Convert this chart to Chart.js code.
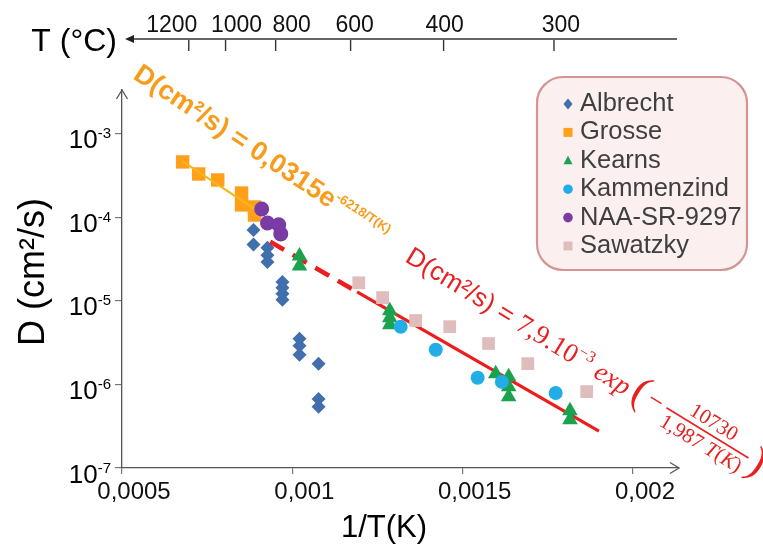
<!DOCTYPE html>
<html>
<head>
<meta charset="utf-8">
<script src="https://cdn.jsdelivr.net/npm/chart.js@4.4.0/dist/chart.umd.min.js"></script>
<style>
  html, body { margin: 0; padding: 0; background: #fff; }
  canvas { display: block; }
</style>
</head>
<body>
<canvas id="chart" width="763" height="545"></canvas>
<script>
// Hydrogen diffusion in zirconium: D (cm²/s) against 1/T (K⁻¹), by source.

const albrechtInvT = [0.000886, 0.000886, 0.000927, 0.000927, 0.000927, 0.000971, 0.000971, 0.000971, 0.000971,
                      0.001021, 0.001021, 0.001021, 0.001077, 0.001077, 0.001077];
const albrechtD    = [7.0e-5, 4.7e-5, 4.3e-5, 3.5e-5, 2.9e-5, 1.68e-5, 1.43e-5, 1.21e-5, 1.03e-5,
                      3.5e-6, 2.9e-6, 2.26e-6, 1.76e-6, 6.7e-7, 5.4e-7];

const grosseInvT = [0.000678, 0.000725, 0.000781, 0.000851, 0.000851, 0.000889, 0.000889];
const grosseD    = [4.57e-4, 3.28e-4, 2.78e-4, 1.94e-4, 1.40e-4, 1.32e-4, 1.06e-4];

const kearnsInvT = [0.001021, 0.001021, 0.001286, 0.001286, 0.001286, 0.001597,
                    0.001635, 0.001635, 0.001635, 0.001815, 0.001815];
const kearnsD    = [3.43e-5, 2.61e-5, 7.57e-6, 6.25e-6, 5.15e-6, 1.34e-6,
                    1.23e-6, 9.35e-7, 7.1e-7, 4.84e-7, 3.78e-7];

const kammenzindInvT = [0.001318, 0.001421, 0.001544, 0.001615, 0.001773];
const kammenzindD    = [4.88e-6, 2.59e-6, 1.2e-6, 1.07e-6, 7.9e-7];

const naaInvT = [0.000910, 0.000927, 0.000960, 0.000966];
const naaD    = [1.25e-4, 8.5e-5, 8.1e-5, 6.3e-5];

const sawatzkyInvT = [0.001195, 0.001265, 0.001362, 0.001462, 0.001576, 0.001691, 0.001864];
const sawatzkyD    = [1.64e-5, 1.09e-5, 5.8e-6, 4.9e-6, 3.08e-6, 1.77e-6, 8.2e-7];

// Arrhenius fits as written on the chart
const grosseFit = { A: 0.0315, Q: 6218, from: 0.000678, to: 0.000890 };           // D = A·e^(−Q/T)
const globalFit = { A: 7.9e-3, Q: 10730, R: 1.987, dashFrom: 0.000935, solidFrom: 0.00119, to: 0.0019 }; // D = A·exp(−Q/(R·T))

// Axis ticks
const xTickValues = [0.0005, 0.001, 0.0015, 0.002];
const xTickLabels = ['0,0005', '0,001', '0,0015', '0,002'];
const yTickExponents = [-7, -6, -5, -4, -3];
const tempLabels = ['1200', '1000', '800', '600', '400', '300'];
const tempInvT   = [0.000696, 0.000804, 0.000951, 0.001171, 0.001444, 0.001768];

const xMin = 0.0005, xMax = 0.002135;
const yMin = 1e-7, yMax = Math.pow(10, -2.48);

const SANS = '"Liberation Sans", Arial, sans-serif';
const SERIF = '"Liberation Serif", "Times New Roman", serif';

const grosseAt = x => grosseFit.A * Math.exp(-grosseFit.Q * x);
const globalAt = x => globalFit.A * Math.exp(-globalFit.Q / globalFit.R * x);

const pts = (xs, ys) => xs.map((x, i) => ({ x, y: ys[i] }));

function scatterSet(label, xs, ys, style, color, radius, order) {
  return {
    type: 'scatter', label, data: pts(xs, ys),
    pointStyle: style, pointRadius: radius, pointHoverRadius: radius,
    backgroundColor: color, borderColor: color, borderWidth: 0, order
  };
}

const seriesStyles = [
  { name: 'Albrecht',    style: 'rectRot',  color: '#416FAD' },
  { name: 'Grosse',      style: 'rect',     color: '#FF9F1A' },
  { name: 'Kearns',      style: 'triangle', color: '#1BA24E' },
  { name: 'Kammenzind',  style: 'circle',   color: '#22ADE6' },
  { name: 'NAA-SR-9297', style: 'circle',   color: '#7A3BA5' },
  { name: 'Sawatzky',    style: 'rect',     color: '#E0BDBD' }
];

const datasets = [
  scatterSet('Albrecht', albrechtInvT, albrechtD, 'rectRot', seriesStyles[0].color, 7, 10),
  scatterSet('Grosse', grosseInvT, grosseD, 'rect', seriesStyles[1].color, 9.5, 9),
  scatterSet('Kearns', kearnsInvT, kearnsD, 'triangle', seriesStyles[2].color, 9, 8),
  scatterSet('Kammenzind', kammenzindInvT, kammenzindD, 'circle', seriesStyles[3].color, 7, 7),
  scatterSet('NAA-SR-9297', naaInvT, naaD, 'circle', seriesStyles[4].color, 7.5, 6),
  scatterSet('Sawatzky', sawatzkyInvT, sawatzkyD, 'rect', seriesStyles[5].color, 9, 5),
  {
    type: 'line', label: 'Grosse fit',
    data: [{ x: grosseFit.from, y: grosseAt(grosseFit.from) }, { x: grosseFit.to, y: grosseAt(grosseFit.to) }],
    borderColor: '#F7B61C', borderWidth: 2.2, pointRadius: 0, fill: false, order: 8.5
  },
  {
    type: 'line', label: 'fit (extrapolated)',
    data: [{ x: globalFit.dashFrom, y: globalAt(globalFit.dashFrom) }, { x: globalFit.solidFrom, y: globalAt(globalFit.solidFrom) }],
    borderColor: '#EE1C1C', borderWidth: 4.5, borderDash: [16, 10], borderCapStyle: 'butt',
    pointRadius: 0, fill: false, order: 9.5
  },
  {
    type: 'line', label: 'fit',
    data: [{ x: globalFit.solidFrom, y: globalAt(globalFit.solidFrom) }, { x: globalFit.to, y: globalAt(globalFit.to) }],
    borderColor: '#EE1C1C', borderWidth: 3.2, pointRadius: 0, fill: false, order: 9.5
  }
];

// Draws text runs along a rotated baseline; fraction runs stack num over den.
function drawRuns(ctx, x0, y0, angleDeg, color, runs) {
  ctx.save();
  ctx.translate(x0, y0);
  ctx.rotate(angleDeg * Math.PI / 180);
  ctx.fillStyle = color;
  ctx.strokeStyle = color;
  ctx.textBaseline = 'alphabetic';
  ctx.textAlign = 'left';
  const widthOf = parts => parts.reduce((w, p) => { ctx.font = p.font; return w + ctx.measureText(p.text).width; }, 0);
  const drawParts = (parts, u, v) => {
    for (const p of parts) { ctx.font = p.font; ctx.fillText(p.text, u, v); u += ctx.measureText(p.text).width; }
  };
  let u = 0;
  for (const r of runs) {
    u += r.gap || 0;
    if (r.frac) {
      const wn = widthOf(r.num), wd = widthOf(r.den);
      const w = Math.max(wn, wd) + 4;
      drawParts(r.num, u + (w - wn) / 2, -r.bar - r.numGap);
      drawParts(r.den, u + (w - wd) / 2, -r.bar + r.denGap);
      ctx.lineWidth = 1.6;
      ctx.beginPath();
      ctx.moveTo(u, -r.bar);
      ctx.lineTo(u + w, -r.bar);
      ctx.stroke();
      u += w;
    } else {
      ctx.font = r.font;
      ctx.fillText(r.text, u, -(r.rise || 0));
      u += ctx.measureText(r.text).width;
    }
  }
  ctx.restore();
}

function drawMarker(ctx, style, x, y, r, color) {
  ctx.fillStyle = color;
  ctx.beginPath();
  if (style === 'circle') {
    ctx.arc(x, y, r, 0, Math.PI * 2);
  } else if (style === 'rect') {
    ctx.rect(x - r, y - r, 2 * r, 2 * r);
  } else if (style === 'rectRot') {
    ctx.moveTo(x, y - r * 1.2); ctx.lineTo(x + r, y); ctx.lineTo(x, y + r * 1.2); ctx.lineTo(x - r, y); ctx.closePath();
  } else if (style === 'triangle') {
    ctx.moveTo(x, y - r * 1.1); ctx.lineTo(x + r, y + r * 0.75); ctx.lineTo(x - r, y + r * 0.75); ctx.closePath();
  }
  ctx.fill();
}

const decorations = {
  id: 'decorations',
  afterDraw(chart) {
    const ctx = chart.ctx;
    const xs = chart.scales.x, ys = chart.scales.y;
    const area = chart.chartArea;
    ctx.save();

    // y tick labels as powers of ten
    for (const e of yTickExponents) {
      const y = ys.getPixelForValue(Math.pow(10, e));
      const sup = String(e);
      ctx.fillStyle = '#000';
      ctx.textBaseline = 'alphabetic';
      ctx.textAlign = 'left';
      ctx.font = '15px ' + SANS;
      const supW = ctx.measureText(sup).width;
      ctx.font = '26px ' + SANS;
      const baseW = ctx.measureText('10').width;
      const right = 111;
      ctx.fillText('10', right - supW - baseW, y + 14.5);
      ctx.font = '15px ' + SANS;
      ctx.fillText(sup, right - supW, y + 4.5);
    }

    // open arrowheads on the axes
    ctx.strokeStyle = '#555';
    ctx.lineWidth = 1.3;
    ctx.beginPath();
    ctx.moveTo(area.right - 9, area.bottom - 5.5);
    ctx.lineTo(area.right, area.bottom);
    ctx.lineTo(area.right - 9, area.bottom + 5.5);
    ctx.moveTo(area.left - 5.5, area.top + 9);
    ctx.lineTo(area.left, area.top);
    ctx.lineTo(area.left + 5.5, area.top + 9);
    ctx.stroke();

    // temperature axis along the top
    const topY = 39;
    const lineStart = area.left + 4;
    ctx.strokeStyle = '#333';
    ctx.lineWidth = 1.4;
    ctx.beginPath();
    ctx.moveTo(lineStart + 6, topY);
    ctx.lineTo(area.right - 2, topY);
    ctx.stroke();
    ctx.fillStyle = '#222';
    ctx.beginPath();
    ctx.moveTo(lineStart - 1, topY);
    ctx.lineTo(lineStart + 8, topY - 4);
    ctx.lineTo(lineStart + 8, topY + 4);
    ctx.closePath();
    ctx.fill();
    const labelNudge = [-17, 11, 16, 4, 1, 7];
    ctx.font = '23px ' + SANS;
    ctx.textAlign = 'center';
    ctx.textBaseline = 'alphabetic';
    tempInvT.forEach((v, i) => {
      const x = xs.getPixelForValue(v);
      ctx.beginPath();
      ctx.moveTo(x, topY + 1);
      ctx.lineTo(x, topY + 12);
      ctx.stroke();
      ctx.fillStyle = '#111';
      ctx.fillText(tempLabels[i], x + labelNudge[i], 32);
    });
    ctx.font = '32px ' + SANS;
    ctx.textAlign = 'right';
    ctx.textBaseline = 'middle';
    ctx.fillStyle = '#000';
    ctx.fillText('T (°C)', 117, 42);

    // axis titles
    ctx.font = '31px ' + SANS;
    ctx.textAlign = 'center';
    ctx.textBaseline = 'middle';
    ctx.fillText('1/T(K)', 384, 528);
    ctx.save();
    ctx.translate(34, 272);
    ctx.rotate(-Math.PI / 2);
    ctx.font = '36px ' + SANS;
    ctx.fillText('D (cm²/s)', 0, 0);
    ctx.restore();

    // legend
    ctx.beginPath();
    ctx.roundRect(537, 77, 210, 193, 26);
    ctx.fillStyle = '#FCEFEF';
    ctx.fill();
    ctx.lineWidth = 2.2;
    ctx.strokeStyle = '#D49494';
    ctx.stroke();
    ctx.font = '25.5px ' + SANS;
    ctx.textAlign = 'left';
    ctx.textBaseline = 'middle';
    seriesStyles.forEach((s, i) => {
      const y = 103 + i * 28.4;
      drawMarker(ctx, s.style, 568, y + 1, s.style === 'circle' ? 4.8 : 4.5, s.color);
      ctx.fillStyle = '#3F3F3F';
      ctx.fillText(s.name, 580, y + 1);
    });

    // fit equations
    drawRuns(ctx, 132, 78, 33.5, '#F89C1C', [
      { text: 'D(cm²/s) = 0,0315e', font: 'bold 27px ' + SANS },
      { text: '-6218/T(K)', font: 'bold 13px ' + SANS, rise: 11 }
    ]);
    drawRuns(ctx, 404, 261, 31.5, '#E82020', [
      { text: 'D(cm²/s) = ', font: '26px ' + SANS },
      { text: '7,9.10', font: '27px ' + SERIF },
      { text: '−3', font: '16px ' + SERIF, rise: 11 },
      { text: 'exp', font: 'italic 27px ' + SERIF, gap: 7 },
      { text: '(', font: '42px ' + SERIF, gap: 5, rise: 0 },
      { text: '−', font: '27px ' + SERIF, gap: 3, rise: 4 },
      { frac: true, gap: 5, bar: 12, numGap: 6, denGap: 19,
        num: [{ text: '10730', font: '21px ' + SERIF }],
        den: [{ text: '1,987 ', font: '21px ' + SERIF }, { text: 'T', font: 'italic 21px ' + SERIF },
              { text: '(', font: '21px ' + SERIF }, { text: 'K', font: 'italic 21px ' + SERIF },
              { text: ')', font: '21px ' + SERIF }] },
      { text: ')', font: '42px ' + SERIF, gap: 3, rise: 0 }
    ]);

    ctx.restore();
  }
};

new Chart(document.getElementById('chart'), {
  type: 'scatter',
  data: { datasets },
  options: {
    responsive: false,
    animation: false,
    events: [],
    layout: { padding: { top: 90, right: 84, left: 0, bottom: 0 } },
    plugins: { legend: { display: false }, tooltip: { enabled: false } },
    scales: {
      x: {
        type: 'linear', position: 'bottom', min: xMin, max: xMax,
        afterBuildTicks: s => { s.ticks = xTickValues.map(v => ({ value: v })); },
        afterFit: s => { s.height = 77; },
        ticks: {
          callback: (v, i) => xTickLabels[i],
          font: { family: SANS, size: 24 }, color: '#111',
          labelOffset: 12, padding: 4, autoSkip: false, maxRotation: 0
        },
        grid: { display: true, drawOnChartArea: false, drawTicks: true, tickLength: 6, color: '#777', lineWidth: 1.2 },
        border: { display: true, color: '#555', width: 1.3 }
      },
      y: {
        type: 'logarithmic', position: 'left', min: yMin, max: yMax,
        afterBuildTicks: s => { s.ticks = yTickExponents.map(e => ({ value: Math.pow(10, e) })); },
        afterFit: s => { s.width = 122; },
        ticks: { display: false },
        grid: { display: true, drawOnChartArea: false, drawTicks: true, tickLength: 7, color: '#777', lineWidth: 1.2 },
        border: { display: true, color: '#555', width: 1.3 }
      }
    }
  },
  plugins: [decorations]
});
</script>
</body>
</html>
